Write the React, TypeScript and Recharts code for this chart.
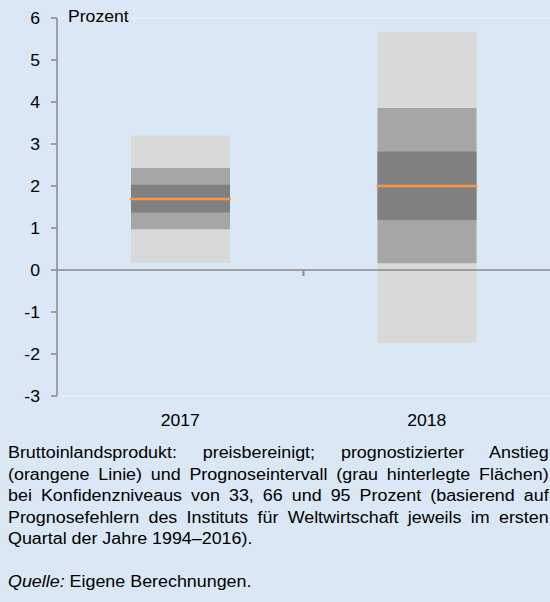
import { BarChart, Bar, XAxis, YAxis, ReferenceLine } from "recharts"

const years = ["2017", "2018"]
const band95Low = [0.17, -1.73]
const band95High = [3.2, 5.67]
const band66Low = [0.97, 0.16]
const band66High = [2.43, 3.86]
const band33Low = [1.37, 1.19]
const band33High = [2.03, 2.82]
const forecast = [1.69, 2.0]
const yTicks = [-3, -2, -1, 0, 1, 2, 3, 4, 5, 6]

const captionLines = [
  "Bruttoinlandsprodukt: preisbereinigt; prognostizierter Anstieg",
  "(orangene Linie) und Prognoseintervall (grau hinterlegte Flächen)",
  "bei Konfidenzniveaus von 33, 66 und 95 Prozent (basierend auf",
  "Prognosefehlern des Instituts für Weltwirtschaft jeweils im ersten",
]
const captionLast = "Quartal der Jahre 1994–2016)."

const data = years.map((year, i) => ({
  year,
  p95: [band95Low[i], band95High[i]],
  p66: [band66Low[i], band66High[i]],
  p33: [band33Low[i], band33High[i]],
  mid: forecast[i],
}))

const bg = "#dae7f4"
const axisGrey = "#8a8a8a"
const font = "'Liberation Sans', Arial, sans-serif"

function YTick({ x, y, payload }: any) {
  return (
    <text transform={`translate(${x},${y}) scale(1.1,1)`} textAnchor="end" dy="0.36em" fontSize={16} fill="#000" fontFamily={font}>
      {payload.value}
    </text>
  )
}

function XTick({ x, y, payload }: any) {
  return (
    <text transform={`translate(${x},${y + 22}) scale(1.1,1)`} textAnchor="middle" fontSize={16} fill="#000" fontFamily={font}>
      {payload.value}
    </text>
  )
}

function OrangeLine({ x, y, width }: any) {
  return <line x1={x - 1} x2={x + width + 1} y1={y} y2={y} stroke="#f79646" strokeWidth={2.5} />
}

function MidTick({ viewBox }: any) {
  const cx = viewBox.x + viewBox.width / 2
  return <line x1={cx} x2={cx} y1={viewBox.y} y2={viewBox.y + 6} stroke={axisGrey} strokeWidth={2} />
}

export default function App() {
  return (
    <div style={{ position: "fixed", left: 0, top: 0, width: 550, height: 602, background: bg, overflow: "hidden", fontFamily: font }}>
      <BarChart width={550} height={440} data={data} margin={{ top: 18, right: 0, left: 0, bottom: 0 }}>
        <XAxis dataKey="year" axisLine={false} tickLine={false} height={44} tick={<XTick />} />
        <XAxis dataKey="year" xAxisId="b" hide />
        <XAxis dataKey="year" xAxisId="c" hide />
        <XAxis dataKey="year" xAxisId="d" hide />
        <YAxis
          domain={[-3, 6]}
          ticks={yTicks}
          width={57}
          tickSize={6}
          tickMargin={11}
          stroke={axisGrey}
          strokeWidth={1.5}
          tick={<YTick />}
          interval={0}
        />
        <ReferenceLine y={6} stroke="#e6eef8" strokeWidth={1.5} />
        <ReferenceLine y={-3} stroke="#e6eef8" strokeWidth={1.5} />
        <Bar dataKey="p95" fill="#d9d9d9" barSize={99} isAnimationActive={false} />
        <Bar dataKey="p66" xAxisId="b" fill="#a6a6a6" barSize={99} isAnimationActive={false} />
        <Bar dataKey="p33" xAxisId="c" fill="#808080" barSize={99} isAnimationActive={false} />
        <Bar dataKey="mid" xAxisId="d" barSize={99} shape={<OrangeLine />} isAnimationActive={false} />
        <ReferenceLine y={0} stroke={axisGrey} strokeWidth={1.5} label={<MidTick />} />
      </BarChart>
      <div style={{ position: "absolute", left: 68, top: 8, fontSize: 16, transform: "scaleX(1.1)", transformOrigin: "left" }}>
        Prozent
      </div>
      <div
        style={{
          position: "absolute",
          left: 8,
          top: 442,
          width: 484,
          fontSize: 16,
          lineHeight: "21.5px",
          transform: "scaleX(1.117)",
          transformOrigin: "left top",
          color: "#000",
        }}
      >
        {captionLines.map((line) => (
          <div key={line} style={{ textAlign: "justify", textAlignLast: "justify", whiteSpace: "nowrap" }}>
            {line}
          </div>
        ))}
        <div>{captionLast}</div>
        <div style={{ height: 21.5 }} />
        <div>
          <i>Quelle:</i> Eigene Berechnungen.
        </div>
      </div>
    </div>
  )
}
